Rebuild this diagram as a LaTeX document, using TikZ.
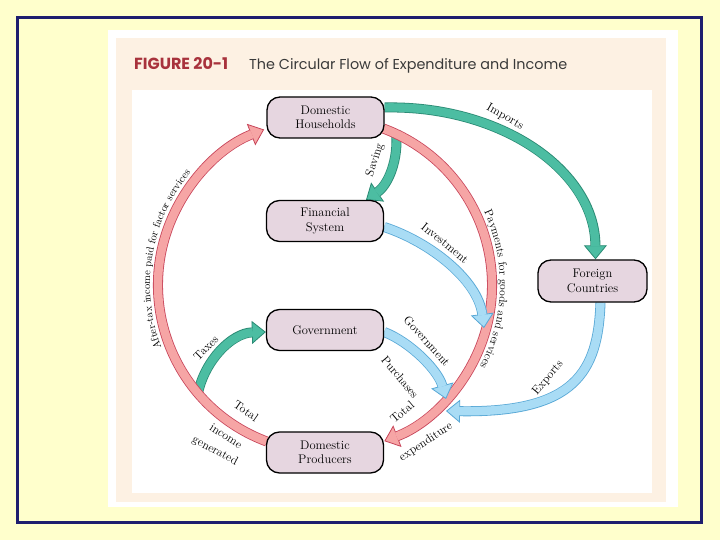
\documentclass[tikz,border=0pt]{standalone}
\usepackage{fontspec}
\usepackage{graphicx}
\newfontfamily\futura{Poppins}
\usetikzlibrary{arrows.meta,decorations.text,calc}
\pgfdeclarelayer{back}
\pgfdeclarelayer{mid}
\pgfsetlayers{back,mid,main}
\definecolor{bgyellow}{HTML}{FFFFCC}
\definecolor{navy}{HTML}{1E1E6E}
\definecolor{peach}{HTML}{FDF1E3}
\definecolor{titlered}{HTML}{A8323C}
\definecolor{titlegray}{HTML}{3A3A3A}
\definecolor{nodefill}{HTML}{E6D6E0}
\definecolor{pinkfill}{HTML}{F6A5A5}
\definecolor{pinkline}{HTML}{C8455A}
\definecolor{tealfill}{HTML}{4CBDA2}
\definecolor{tealline}{HTML}{2A8A74}
\definecolor{bluefill}{HTML}{A9DCF5}
\definecolor{blueline}{HTML}{58A8D6}
\tikzset{
  sector/.style={draw=black, line width=1.3pt, fill=nodefill, rounded corners=13pt,
    minimum width=117pt, minimum height=41pt, align=center, inner sep=0pt,
    font=\fontsize{12.5}{14.5}\selectfont},
  band/.style 2 args={draw=#1, line width=8.4pt, shorten >=13pt,
    preaction={draw=#2, line width=10pt, shorten >=0pt,
      -{Triangle[width=23pt,length=14pt,fill=#1,line width=0.8pt]}}},
  pinkband/.style={band={pinkfill}{pinkline}},
  tealband/.style={band={tealfill}{tealline}},
  blueband/.style={band={bluefill}{blueline}},
  flowlabel/.style={font=\fontsize{12}{13}\selectfont, inner sep=0pt},
  arctext/.style 2 args={decorate, decoration={text along path, text align=center,
    text={|\fontsize{#1}{12}\selectfont|#2}}}
}
\begin{document}
\begin{tikzpicture}[x=1pt,y=1pt]
\useasboundingbox (0,0) rectangle (720,-540);
\begin{pgfonlayer}{back}
  \fill[bgyellow] (0,0) rectangle (720,-540);
  \draw[navy, line width=3pt] (17,-18) rectangle (701,-522);
  \fill[white] (108,-30) rectangle (678,-507);
  \fill[peach] (116,-38) rectangle (666,-502);
  \fill[white] (132,-90) rectangle (652,-493);
\end{pgfonlayer}

% title
\node[anchor=base west, inner sep=0pt, text=titlered] (fig) at (134,-70)
  {\resizebox{94pt}{12pt}{\futura\bfseries FIGURE 20-1}};
\node[anchor=base west, inner sep=0pt, text=titlegray] (title) at (249,-70)
  {\resizebox{318pt}{!}{\futura The Circular Flow of Expenditure and Income}};

% sectors
\coordinate (C) at (325,-285);
\node[sector] (hh) at (325.5,-117.5) {Domestic\\Households};
\node[sector] (fs) at (325,-221) {Financial\\System};
\node[sector] (gov) at (325,-330) {Government};
\node[sector] (dp) at (325,-452.5) {Domestic\\Producers};
\node[sector, minimum width=109pt, minimum height=42pt] (fc) at (592.5,-281) {Foreign\\Countries};

% anchor points on the big circle
\coordinate (incomeStart) at ($(C)+(249.6:167)$);
\coordinate (spendStart) at ($(C)+(69.5:167)$);
\coordinate (taxStart) at (198,-393);
\coordinate (saveStart) at (396,-131);
\coordinate (invEnd) at (484,-328);
\coordinate (gpEnd) at (446,-399);
\coordinate (expEnd) at (446,-411);

\begin{pgfonlayer}{mid}
  \draw[tealband] (taxStart) .. controls (205,-360) and (232,-333) .. ([yshift=-2pt]gov.west);
  \draw[tealband] (saveStart) .. controls (399,-160) and (388,-185) .. ([xshift=41pt]fs.north);
  \draw[pinkband] (incomeStart) arc[start angle=249.6, end angle=111.4, radius=167];
  \draw[pinkband] (spendStart) arc[start angle=69.5, end angle=-69.2, radius=167];
  \draw[tealband] ([yshift=10pt]hh.east) .. controls (500,-105) and (595,-170) .. ([xshift=3pt]fc.north);
  \draw[blueband] ([yshift=-6pt]fs.east) .. controls (430,-242) and (478,-280) .. (invEnd);
  \draw[blueband] ([yshift=-2pt]gov.east) .. controls (410,-342) and (438,-370) .. (gpEnd);
  \draw[blueband] ([xshift=8pt]fc.south) .. controls (598,-372) and (575,-413) .. (expEnd);
\end{pgfonlayer}

% curved labels
\path[arctext={10.5}{After-tax income paid for factor services}]
  ($(C)+(215:175)$) arc[start angle=215, end angle=126, radius=175];
\path[arctext={11.5}{Payments for goods and services}]
  ($(C)+(35:175)$) arc[start angle=35, end angle=-38, radius=175];

% labels
\node[flowlabel, rotate=-30] (limp) at (505,-117) {Imports};
\node[flowlabel, rotate=72] (lsav) at (375,-160) {Saving};
\node[flowlabel, rotate=-39] (linv) at (445,-243) {Investment};
\node[flowlabel, rotate=-48] (lgov) at (427,-341) {Government};
\node[flowlabel, rotate=-50] (lpur) at (400,-377) {Purchases};
\node[flowlabel, rotate=50] (lexp) at (548,-378) {Exports};
\node[flowlabel, rotate=45] (ltax) at (206,-348) {Taxes};
\node[flowlabel, rotate=-35] (ltot1) at (246,-411) {Total};
\node[flowlabel, rotate=-33] (linc) at (226,-436) {income};
\node[flowlabel, rotate=-28] (lgen) at (215,-451) {generated};
\node[flowlabel, rotate=40] (ltot2) at (402,-412) {Total};
\node[flowlabel, rotate=33] (lexpd) at (426,-442) {expenditure};
\end{tikzpicture}
\end{document}
